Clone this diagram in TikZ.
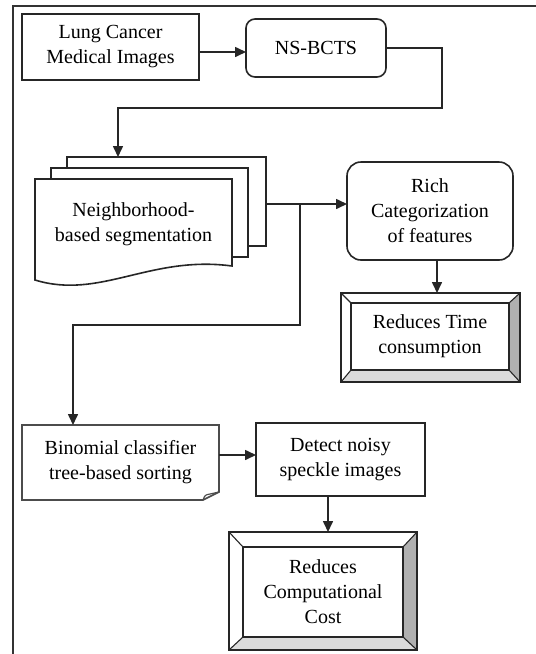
\documentclass[tikz,border=0pt]{standalone}
\usepackage{fontspec}
\setmainfont{Liberation Serif}
\usetikzlibrary{arrows.meta}
\newcommand\bevelbox[2]{%
  \fill[gray!62] (#1.north east) -- (#1.south east) -- (#2.south east) -- (#2.north east) -- cycle;
  \fill[gray!28] (#1.south west) -- (#1.south east) -- (#2.south east) -- (#2.south west) -- cycle;
  \draw[line width=1.6pt, black!85] (#1.north west) rectangle (#1.south east);
  \draw[line width=1.6pt, black!85] (#2.north west) rectangle (#2.south east);
  \draw[line width=1.1pt, black!85] (#1.north west) -- (#2.north west) (#1.north east) -- (#2.north east)
     (#1.south west) -- (#2.south west) (#1.south east) -- (#2.south east);}
\begin{document}
\begin{tikzpicture}[x=1pt,y=-1pt,
  every node/.style={font=\fontsize{20}{25}\selectfont, align=center, inner sep=0pt, outer sep=0pt},
  box/.style={draw=black!85, line width=1.6pt, fill=white},
  conn/.style={line width=1.6pt, draw=black!85, -{Triangle[length=11pt,width=10pt]}},
  ln/.style={line width=1.6pt, draw=black!85}]
\useasboundingbox (0,0) rectangle (536,654);
% frame
\draw[line width=2pt, black!80] (536,6) -- (13,6) -- (13,654);
% top row
\node[box, minimum width=177pt, minimum height=66pt] (lung) at (110.5,47) {Lung Cancer\\Medical Images};
\node[box, rounded corners=9pt, minimum width=140pt, minimum height=58pt] (ns) at (316,48) {NS-BCTS};
% multi document
\node[box, minimum width=199pt, minimum height=89pt] (pg3) at (166.5,201.5) {};
\node[box, minimum width=197pt, minimum height=89pt] (pg2) at (149.5,212.5) {};
\draw[ln, fill=white] (35,179) -- (232,179) -- (232,266) .. controls (150,255) and (100,300) .. (35,280) -- cycle;
\node (seg) at (133.5,224) {Neighborhood-\\based segmentation};
% rich
\node[box, rounded corners=14pt, minimum width=166pt, minimum height=98pt] (rich) at (430,211) {Rich\\Categorization\\of features};
% time
\node[minimum width=179pt, minimum height=89pt] (time) at (430.5,337.5) {};
\node[minimum width=158pt, minimum height=67pt] (timein) at (430,336.5) {};
\bevelbox{time}{timein}
\node at (timein.center) {Reduces Time\\consumption};
% binomial
\draw[ln, draw=black!70, fill=white] (22,425) -- (219,425) -- (219,492) -- (203,500) -- (22,500) -- cycle;
\draw[line width=1.2pt, black!70] (203,500) .. controls (205,495) .. (210,494) -- (219,492);
\node[minimum width=197pt, minimum height=75pt] (bin) at (120.5,462.5) {Binomial classifier\\tree-based sorting};
% detect
\node[box, minimum width=169pt, minimum height=73pt] (det) at (340.5,459.5) {Detect noisy\\speckle images};
% cost
\node[minimum width=188pt, minimum height=118pt] (cost) at (323,591) {};
\node[minimum width=160pt, minimum height=90pt] (costin) at (323,592) {};
\bevelbox{cost}{costin}
\node at (costin.center) {Reduces\\Computational\\Cost};
% connectors
\coordinate (y1) at (0,52);
\draw[conn] (lung.east |- y1) -- (ns.west |- y1);
\coordinate (t1) at (442,108);
\coordinate (t2) at (118,108);
\draw[conn] (ns.east) -| (t1) -- (t2) -- (t2 |- pg3.north);
\coordinate (y2) at (0,204);
\draw[conn] (pg3.east |- y2) -- (rich.west |- y2);
\coordinate (br) at (300,204);
\coordinate (t3) at (73,325);
\draw[conn] (br) |- (t3) -- (t3 |- bin.north);
\coordinate (x4) at (437,0);
\draw[conn] (rich.south -| x4) -- (time.north -| x4);
\coordinate (y5) at (0,455);
\draw[conn] (bin.east |- y5) -- (det.west |- y5);
\coordinate (x6) at (328,0);
\draw[conn] (det.south -| x6) -- (cost.north -| x6);
\end{tikzpicture}
\end{document}
